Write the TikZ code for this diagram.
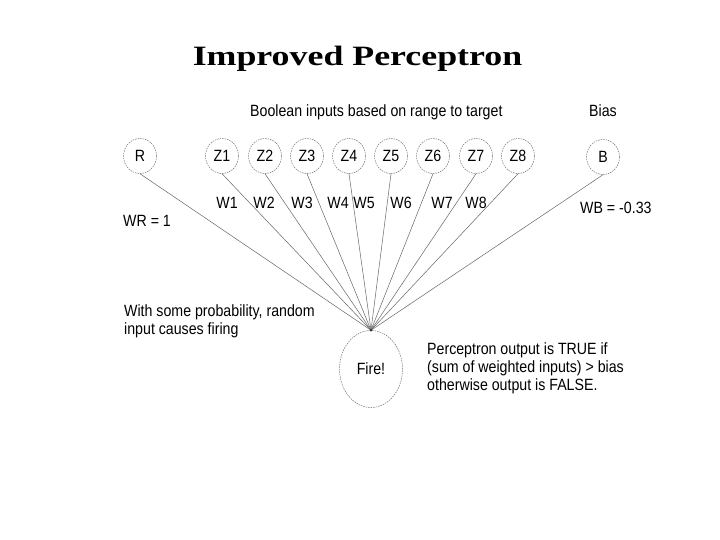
\documentclass[tikz,border=0pt]{standalone}
\usepackage{fontspec}
\setmainfont{Liberation Sans}[FakeStretch=0.87]
\newfontfamily\titlefont{Liberation Serif}[FakeStretch=1.28]
\usetikzlibrary{shapes.geometric}
\begin{document}
\begin{tikzpicture}[x=1pt,y=-1pt,
  inp/.style={ellipse,draw=black!55,dash pattern=on 1.5pt off 1pt,line width=0.5pt,minimum width=33pt,minimum height=35pt,inner sep=0pt,font=\fontsize{16.3}{18}\selectfont},
  wire/.style={draw=black!60,line width=0.5pt},
  lab/.style={font=\fontsize{16.3}{18}\selectfont,inner sep=0pt},
  wlab/.style={font=\fontsize{16.3}{18}\selectfont,inner sep=0pt,anchor=base}]
\useasboundingbox (0,0) rectangle (720,540);
\fill[white] (0,0) rectangle (720,540);
\node[inner sep=0pt,anchor=base,font=\titlefont\bfseries\fontsize{28}{32}\selectfont] (title) at (357.5,66) {Improved Perceptron};
\node[lab,anchor=base west] (bool) at (250,117) {Boolean inputs based on range to target};
\node[lab,anchor=base] (bias) at (603,117) {Bias};
\node[inp] (R) at (140,156) {R};
\node[inp] (Z1) at (222,156) {Z1};
\node[inp] (Z2) at (265,156) {Z2};
\node[inp] (Z3) at (307,156) {Z3};
\node[inp] (Z4) at (349,156) {Z4};
\node[inp] (Z5) at (391,156) {Z5};
\node[inp] (Z6) at (433,156) {Z6};
\node[inp] (Z7) at (476,156) {Z7};
\node[inp] (Z8) at (518,156) {Z8};
\node[inp] (B) at (603,157) {B};
\node[ellipse,draw=black!55,dash pattern=on 1.5pt off 1pt,line width=0.5pt,minimum width=63pt,minimum height=77pt,inner sep=0pt,font=\fontsize{16.3}{18}\selectfont] (fire) at (371,369) {Fire!};
\foreach \n in {R,Z1,Z2,Z3,Z4,Z5,Z6,Z7,Z8,B} \draw[wire] (\n.south) -- (fire.north);
\fill[black!80] (fire.north) circle (1.3pt);
\node[wlab] (w1) at (227,208.5) {W1};
\node[wlab] (w2) at (264,208.5) {W2};
\node[wlab] (w3) at (302,208.5) {W3};
\node[wlab] (w4) at (338,208.5) {W4};
\node[wlab] (w5) at (364,208.5) {W5};
\node[wlab] (w6) at (401,208.5) {W6};
\node[wlab] (w7) at (442,208.5) {W7};
\node[wlab] (w8) at (476,208.5) {W8};
\node[lab,anchor=base west] (wr) at (123,226.5) {WR = 1};
\node[lab,anchor=base west] (wb) at (580,214) {WB = -0.33};
\node[lab,anchor=base west,align=left] (rand) at (124,334) {With some probability, random\\input causes firing};
\node[lab,anchor=base west,align=left] (out) at (427,390) {Perceptron output is TRUE if\\(sum of weighted inputs) > bias\\otherwise output is FALSE.};
\end{tikzpicture}
\end{document}
